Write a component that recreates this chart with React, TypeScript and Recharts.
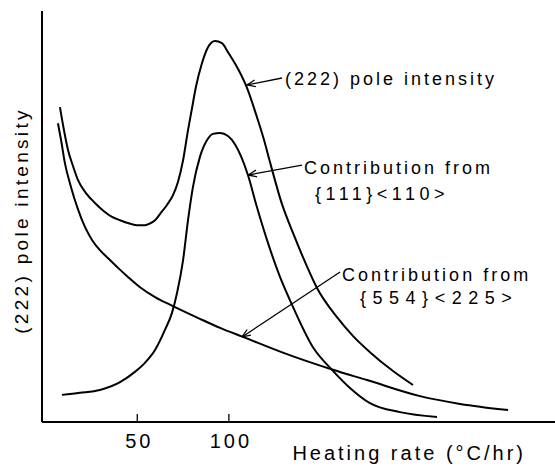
import React from 'react';
import { LineChart, Line, XAxis, YAxis, ReferenceLine } from 'recharts';

// Heating rate (°C/hr) vs relative intensity (arbitrary units 0-100)
const totalPole = [
  { x: 7.8, y: 76.6 }, { x: 10.0, y: 71.0 }, { x: 12.2, y: 66.2 }, { x: 14.9, y: 62.3 },
  { x: 17.6, y: 58.9 }, { x: 22.0, y: 55.7 }, { x: 26.9, y: 53.3 }, { x: 31.8, y: 51.3 },
  { x: 36.2, y: 49.9 }, { x: 40.6, y: 49.1 }, { x: 44.9, y: 48.4 }, { x: 49.8, y: 47.9 },
  { x: 54.2, y: 47.9 }, { x: 56.9, y: 48.3 }, { x: 59.7, y: 49.1 }, { x: 62.4, y: 50.6 },
  { x: 66.2, y: 52.8 }, { x: 69.5, y: 55.2 }, { x: 72.2, y: 58.4 }, { x: 75.0, y: 63.7 },
  { x: 77.7, y: 71.0 }, { x: 79.9, y: 76.4 }, { x: 82.0, y: 81.5 }, { x: 85.3, y: 87.3 },
  { x: 88.6, y: 91.2 }, { x: 92.4, y: 92.7 }, { x: 96.2, y: 92.2 }, { x: 99.5, y: 90.0 },
  { x: 105.0, y: 85.9 }, { x: 109.9, y: 81.3 }, { x: 114.8, y: 74.9 }, { x: 119.2, y: 68.6 },
  { x: 122.4, y: 63.3 }, { x: 129.0, y: 53.0 }, { x: 135.0, y: 46.0 }, { x: 141.6, y: 38.9 },
  { x: 148.1, y: 32.6 }, { x: 159.0, y: 25.5 }, { x: 167.8, y: 20.9 }, { x: 177.0, y: 17.0 },
  { x: 189.6, y: 12.4 }, { x: 200.5, y: 9.0 },
];

const contrib111 = [
  { x: 8.9, y: 6.6 }, { x: 18.7, y: 7.1 }, { x: 29.6, y: 7.8 }, { x: 40.6, y: 9.7 },
  { x: 48.7, y: 12.2 }, { x: 54.2, y: 14.4 }, { x: 59.7, y: 17.5 }, { x: 65.1, y: 22.4 },
  { x: 68.9, y: 26.5 }, { x: 71.7, y: 31.4 }, { x: 75.0, y: 39.4 }, { x: 77.7, y: 49.1 },
  { x: 80.4, y: 57.2 }, { x: 84.2, y: 64.5 }, { x: 88.1, y: 68.6 }, { x: 91.3, y: 70.1 },
  { x: 95.2, y: 70.3 }, { x: 99.5, y: 69.6 }, { x: 103.3, y: 67.6 }, { x: 106.6, y: 64.7 },
  { x: 110.4, y: 60.1 }, { x: 115.3, y: 52.3 }, { x: 120.8, y: 44.3 }, { x: 127.9, y: 35.3 },
  { x: 134.5, y: 28.5 }, { x: 145.9, y: 18.2 }, { x: 156.3, y: 12.7 }, { x: 166.1, y: 8.3 },
  { x: 177.0, y: 4.6 }, { x: 193.4, y: 2.4 }, { x: 213.6, y: 1.2 },
];

const contrib554 = [
  { x: 6.7, y: 72.7 }, { x: 8.4, y: 68.6 }, { x: 10.5, y: 63.0 }, { x: 13.8, y: 57.2 },
  { x: 17.6, y: 51.8 }, { x: 21.5, y: 47.4 }, { x: 25.3, y: 44.3 }, { x: 29.6, y: 41.8 },
  { x: 33.5, y: 40.1 }, { x: 39.5, y: 37.5 }, { x: 44.9, y: 35.3 }, { x: 51.5, y: 32.8 },
  { x: 59.7, y: 30.4 }, { x: 69.5, y: 28.2 }, { x: 84.2, y: 25.1 }, { x: 95.2, y: 22.9 },
  { x: 107.7, y: 20.7 }, { x: 131.7, y: 16.5 }, { x: 156.8, y: 12.7 }, { x: 175.4, y: 10.2 },
  { x: 204.3, y: 6.3 }, { x: 226.2, y: 4.4 }, { x: 252.4, y: 2.9 },
];

const xTicks = [50, 100];
const xLabel = 'Heating rate (°C/hr)';
const yLabel = '(222) pole intensity';

// Annotation arrows: start (text side) -> tip (on curve), in data coordinates
const annotations = [
  { from: { x: 129.0, y: 83.7 }, to: { x: 109.9, y: 82.0 }, lines: ['(222) pole intensity'] },
  { from: { x: 139.9, y: 62.5 }, to: { x: 110.6, y: 60.1 }, lines: ['Contribution from', '{111}<110>'] },
  { from: { x: 160.7, y: 36.5 }, to: { x: 107.2, y: 20.7 }, lines: ['Contribution from', '{554}<225>'] },
];

const FONT = '"Liberation Sans", Arial, sans-serif';

const textLayouts = [
  [{ dx: 3, dy: 7, ls: 3 }],
  [{ dx: 2, dy: 9, ls: 3 }, { dx: 13, dy: 35, ls: 4.5 }],
  [{ dx: 2, dy: 9, ls: 3 }, { dx: 20, dy: 32, ls: 6.5 }],
];

const makeArrowShape = (idx: number) => (p: any) => {
  const { x1, y1, x2, y2 } = p;
  const dx = x2 - x1;
  const dy = y2 - y1;
  const len = Math.sqrt(dx * dx + dy * dy) || 1;
  const ux = dx / len;
  const uy = dy / len;
  const hl = 9;
  const a = (22 * Math.PI) / 180;
  const rot = (ang: number) => ({
    x: x2 - hl * (ux * Math.cos(ang) - uy * Math.sin(ang)),
    y: y2 - hl * (ux * Math.sin(ang) + uy * Math.cos(ang)),
  });
  const h1 = rot(a);
  const h2 = rot(-a);
  const ann = annotations[idx];
  const lay = textLayouts[idx];
  return (
    <g>
      <line x1={x1} y1={y1} x2={x2} y2={y2} stroke="#000" strokeWidth={1.3} />
      <line x1={x2} y1={y2} x2={h1.x} y2={h1.y} stroke="#000" strokeWidth={1.3} />
      <line x1={x2} y1={y2} x2={h2.x} y2={h2.y} stroke="#000" strokeWidth={1.3} />
      {ann.lines.map((t, i) => (
        <text
          key={i}
          x={x1 + lay[i].dx}
          y={y1 + lay[i].dy}
          fontFamily={FONT}
          fontSize={18}
          letterSpacing={lay[i].ls}
          fill="#000"
        >
          {t}
        </text>
      ))}
    </g>
  );
};

const XTick = (props: any) => {
  const { x, y, payload } = props;
  return (
    <g>
      <line x1={x} x2={x} y1={y} y2={y - 8} stroke="#000" strokeWidth={1.3} />
      <text x={x + 2} y={y + 26} textAnchor="middle" fontFamily={FONT} fontSize={20} letterSpacing={3} fill="#000">
        {payload.value}
      </text>
    </g>
  );
};

const YLabelContent = (props: any) => {
  const vb = props.viewBox || { x: 40, y: 11, height: 411 };
  const cx = 28;
  const cy = vb.y + vb.height / 2 + 4;
  return (
    <text
      x={cx}
      y={cy}
      transform={`rotate(-90, ${cx}, ${cy})`}
      textAnchor="middle"
      fontFamily={FONT}
      fontSize={19}
      letterSpacing={3.3}
      fill="#000"
    >
      {yLabel}
    </text>
  );
};

const XLabelContent = (props: any) => {
  const vb = props.viewBox || { x: 42, y: 422, width: 513, height: 30 };
  return (
    <text
      x={vb.x + vb.width - 29}
      y={vb.y + 38}
      textAnchor="end"
      fontFamily={FONT}
      fontSize={20}
      letterSpacing={3}
      fill="#000"
    >
      {xLabel}
    </text>
  );
};

export default function App() {
  return (
    <div style={{ position: 'absolute', left: 0, top: 0, background: '#fff' }}>
      <LineChart width={555} height={469} margin={{ top: 11, right: 0, bottom: 17, left: 40 }}>
        <XAxis
          type="number"
          dataKey="x"
          domain={[-2, 278]}
          allowDataOverflow
          ticks={xTicks}
          tick={<XTick />}
          tickLine={false}
          tickSize={0}
          tickMargin={0}
          height={30}
          axisLine={{ stroke: '#000', strokeWidth: 2 }}
          label={<XLabelContent />}
        />
        <YAxis
          type="number"
          dataKey="y"
          domain={[0, 100]}
          allowDataOverflow
          width={2}
          ticks={[0, 100]}
          tick={false}
          tickLine={false}
          axisLine={{ stroke: '#000', strokeWidth: 2 }}
          label={<YLabelContent />}
        />
        <Line data={totalPole} dataKey="y" type="monotone" stroke="#000" strokeWidth={2} dot={false} isAnimationActive={false} />
        <Line data={contrib111} dataKey="y" type="monotone" stroke="#000" strokeWidth={2} dot={false} isAnimationActive={false} />
        <Line data={contrib554} dataKey="y" type="monotone" stroke="#000" strokeWidth={2} dot={false} isAnimationActive={false} />
        {annotations.map((a, i) => (
          <ReferenceLine key={i} segment={[a.from, a.to]} shape={makeArrowShape(i)} ifOverflow="visible" />
        ))}
      </LineChart>
    </div>
  );
}
